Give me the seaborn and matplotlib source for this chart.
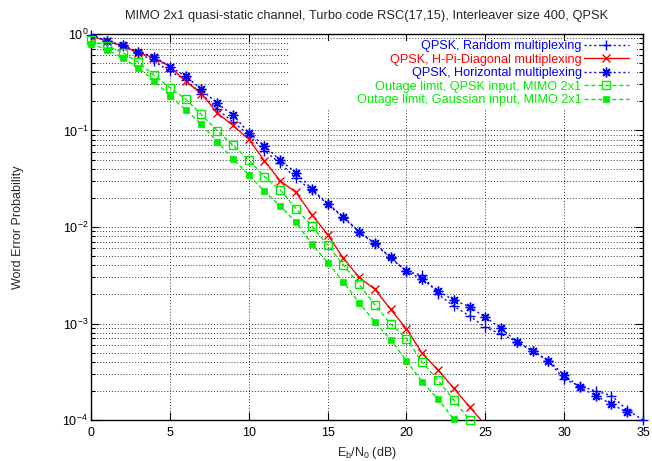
import matplotlib
matplotlib.use('Agg')
import matplotlib.pyplot as plt
import seaborn as sns
from matplotlib.patches import Rectangle
from matplotlib.ticker import LogLocator, MultipleLocator, NullFormatter

# Eb/N0 (dB) and word error probability
ebn0_random = list(range(0, 36))
wep_random = [0.976, 0.846, 0.751, 0.635, 0.521, 0.411, 0.336, 0.241, 0.166, 0.123,
              0.0898, 0.0617, 0.0457, 0.0320, 0.0239, 0.0173, 0.0125, 0.00887, 0.00667, 0.00477,
              0.00346, 0.00318, 0.00202, 0.00151, 0.00120, 0.000913, 0.000778, 0.000648, 0.000519, 0.000411,
              0.000264, 0.000225, 0.000200, 0.000179, 0.000127, 0.0001]

ebn0_hpi = list(range(0, 26))
wep_hpi = [0.953, 0.846, 0.751, 0.640, 0.567, 0.460, 0.324, 0.241, 0.1526, 0.1127,
           0.0813, 0.0485, 0.0300, 0.0228, 0.0134, 0.00836, 0.00474, 0.00301, 0.00226, 0.00140,
           0.000881, 0.000491, 0.000330, 0.000213, 0.000137, 0.0000888]

ebn0_horizontal = list(range(0, 35))
wep_horizontal = [0.976, 0.852, 0.764, 0.651, 0.584, 0.460, 0.365, 0.268, 0.191, 0.145,
                  0.0953, 0.0694, 0.0489, 0.0367, 0.0248, 0.0175, 0.0128, 0.00894, 0.00675, 0.00483,
                  0.00348, 0.00287, 0.00217, 0.00175, 0.00149, 0.00116, 0.000891, 0.000648, 0.000519, 0.000411,
                  0.000293, 0.000218, 0.000179, 0.000146, 0.000120]

ebn0_out_qpsk = list(range(0, 25))
wep_out_qpsk = [0.860, 0.760, 0.643, 0.509, 0.373, 0.277, 0.212, 0.1465, 0.0993, 0.0704,
                0.0495, 0.0332, 0.0242, 0.01548, 0.01024, 0.00651, 0.00404, 0.00255, 0.00156, 0.000988,
                0.000696, 0.000396, 0.000260, 0.000161, 0.0001]

ebn0_out_gauss = list(range(0, 24))
wep_out_gauss = [0.793, 0.686, 0.568, 0.447, 0.328, 0.228, 0.165, 0.1154, 0.0766, 0.0507,
                 0.0348, 0.0234, 0.01652, 0.01114, 0.00667, 0.00427, 0.00271, 0.00164, 0.00104, 0.000675,
                 0.000411, 0.000249, 0.000165, 0.000102]

sns.set_style('ticks')
plt.rcParams['font.family'] = ['Liberation Sans', 'DejaVu Sans']
plt.rcParams['mathtext.fontset'] = 'custom'
plt.rcParams['mathtext.rm'] = 'Liberation Sans'
plt.rcParams['mathtext.it'] = 'Liberation Sans:italic'
plt.rcParams['font.size'] = 9

blue = '#0000ff'
red = '#ff0000'
green = '#00ee00'

fig = plt.figure(figsize=(6.52, 4.61), dpi=100)
ax = fig.add_axes([91 / 652, 1 - 420 / 461, 552 / 652, 386 / 461])

sns.lineplot(x=ebn0_random, y=wep_random, ax=ax, color=blue, linestyle=(0, (1.5, 2)),
             linewidth=1, marker='+', markersize=7, markeredgecolor=blue, markeredgewidth=1,
             label='QPSK, Random multiplexing', clip_on=False, zorder=3)
sns.lineplot(x=ebn0_hpi, y=wep_hpi, ax=ax, color=red, linestyle='-',
             linewidth=1, marker='x', markersize=5.5, markeredgecolor=red, markeredgewidth=1,
             label='QPSK, H-Pi-Diagonal multiplexing', zorder=3)
sns.lineplot(x=ebn0_horizontal, y=wep_horizontal, ax=ax, color=blue, linestyle=(0, (1.5, 2)),
             linewidth=1, marker=(8, 2, 0), markersize=7, markeredgecolor=blue, markeredgewidth=1,
             label='QPSK, Horizontal multiplexing', zorder=3)
sns.lineplot(x=ebn0_out_qpsk, y=wep_out_qpsk, ax=ax, color=green, linestyle=(0, (3, 2)),
             linewidth=1, marker='s', markersize=5.5, markerfacecolor='none', markeredgecolor=green,
             markeredgewidth=1, label='Outage limit, QPSK input, MIMO 2x1', clip_on=False, zorder=3)
sns.lineplot(x=ebn0_out_gauss, y=wep_out_gauss, ax=ax, color=green, linestyle=(0, (3, 2)),
             linewidth=1, marker='s', markersize=5, markerfacecolor=green, markeredgecolor=green,
             markeredgewidth=0.5, label='Outage limit, Gaussian input, MIMO 2x1', clip_on=False, zorder=3)

ax.set_yscale('log')
ax.set_xlim(0, 35)
ax.set_ylim(1e-4, 1)
ax.xaxis.set_major_locator(MultipleLocator(5))
ax.yaxis.set_major_locator(LogLocator(base=10, numticks=10))
ax.yaxis.set_minor_locator(LogLocator(base=10, subs=range(2, 10), numticks=20))
ax.yaxis.set_minor_formatter(NullFormatter())

ax.grid(which='major', axis='x', linestyle=(0, (1, 2)), color='#333333', linewidth=0.7)
ax.grid(which='both', axis='y', linestyle=(0, (1, 2)), color='#333333', linewidth=0.7)

ax.tick_params(which='both', direction='in', top=True, right=True, colors='black', labelsize=9)
ax.tick_params(which='major', length=6, width=0.8)
ax.tick_params(which='minor', length=3, width=0.8)
ax.tick_params(axis='x', pad=5)
ax.tick_params(axis='y', pad=2)
for s in ax.spines.values():
    s.set_linewidth(1)
    s.set_color('black')

# white key area that hides the grid, as gnuplot does
ax.add_patch(Rectangle((0.36, 0.805), 0.627, 0.178, transform=ax.transAxes,
                       facecolor='white', edgecolor='none', zorder=1.8))

ax.legend(loc='upper right', bbox_to_anchor=(1 - 14 / 552, 1 - 6 / 386), frameon=False,
          markerfirst=False, labelcolor='linecolor', fontsize=9.1, handlelength=3.6,
          handletextpad=0.15, labelspacing=0.12, borderpad=0, borderaxespad=0)

ax.set_title('MIMO 2x1 quasi-static channel, Turbo code RSC(17,15), Interleaver size 400, QPSK',
             fontsize=9.3, pad=11)
ax.set_xlabel('E$_\\mathrm{b}$/N$_\\mathrm{0}$ (dB)', fontsize=9, labelpad=4)
ax.set_ylabel('Word Error Probability', fontsize=9, labelpad=28)

fig.savefig('out.png', dpi=100)
